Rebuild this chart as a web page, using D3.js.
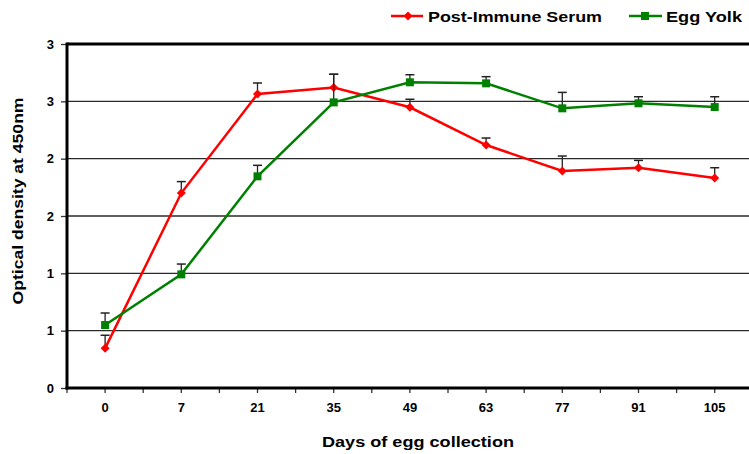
<!DOCTYPE html>
<html>
<head>
<meta charset="utf-8">
<script src="https://cdn.jsdelivr.net/npm/d3@7"></script>
<style>
  html, body { margin: 0; padding: 0; background: #fff; }
  svg { display: block; }
  text { font-family: "Liberation Sans", Arial, sans-serif; font-weight: bold; fill: #000; }
</style>
</head>
<body>
<script>
const categories = ["0", "7", "21", "35", "49", "63", "77", "91", "105"];
const serumValues = [0.346, 1.70, 2.564, 2.62, 2.448, 2.119, 1.892, 1.921, 1.831];
const serumErrors = [0.114, 0.10, 0.096, 0.116, 0.070, 0.061, 0.131, 0.064, 0.090];
const yolkValues = [0.549, 0.991, 1.846, 2.491, 2.666, 2.657, 2.439, 2.483, 2.450];
const yolkErrors = [0.105, 0.090, 0.096, 0.245, 0.066, 0.058, 0.139, 0.057, 0.090];
const yTickValues = [0, 0.5, 1, 1.5, 2, 2.5, 3];
const yTickLabels = ["0", "1", "1", "2", "2", "3", "3"];
const seriesNames = ["Post-Immune Serum", "Egg Yolk"];
const seriesColors = ["#ff0000", "#008000"];

const W = 749, H = 454;
const svg = d3.select("body").append("svg").attr("width", W).attr("height", H);

const plotLeft = 67, plotTop = 44, plotBottom = 388, step = 76.2;
const x = d3.scaleBand().domain(categories).range([plotLeft, plotLeft + step * categories.length]).padding(0);
const y = d3.scaleLinear().domain([0, 3]).range([plotBottom, plotTop]);
const cx = d => x(d) + x.bandwidth() / 2;

// gridlines
svg.append("g").selectAll("line").data(yTickValues.filter(v => v > 0 && v < 3)).join("line")
  .attr("x1", plotLeft).attr("x2", W).attr("y1", d => y(d)).attr("y2", d => y(d))
  .attr("stroke", "#2a2a2a").attr("stroke-width", 1.3);

// y axis ticks and labels
const yAxis = d3.axisLeft(y).tickValues(yTickValues).tickSize(6).tickFormat((d, i) => yTickLabels[i]);
const gy = svg.append("g").attr("transform", `translate(${plotLeft},0)`).call(yAxis);
gy.select(".domain").remove();
gy.selectAll(".tick line").attr("stroke", "#333").attr("stroke-width", 1.3);
gy.selectAll(".tick text").attr("x", -13).attr("font-size", 13).attr("font-family", "Liberation Sans, Arial, sans-serif").attr("font-weight", "bold").attr("fill", "#000");

// x axis: ticks at boundaries and centers
const xAxis = d3.axisBottom(x).tickSize(5).tickFormat(d => d);
const gx = svg.append("g").attr("transform", `translate(0,${plotBottom})`).call(xAxis);
gx.select(".domain").remove();
gx.selectAll(".tick line").attr("stroke", "#333").attr("stroke-width", 1.3);
gx.selectAll(".tick text").attr("y", 15).attr("font-size", 13).attr("font-family", "Liberation Sans, Arial, sans-serif").attr("font-weight", "bold").attr("fill", "#000");
const bounds = categories.map(c => x(c)).concat([x(categories[categories.length - 1]) + x.bandwidth()]);
svg.append("g").selectAll("line").data(bounds).join("line")
  .attr("x1", d => d).attr("x2", d => d).attr("y1", plotBottom).attr("y2", plotBottom + 5)
  .attr("stroke", "#333").attr("stroke-width", 1.3);

// frame lines
svg.append("line").attr("x1", plotLeft).attr("x2", W).attr("y1", y(3)).attr("y2", y(3)).attr("stroke", "#000").attr("stroke-width", 3);
svg.append("line").attr("x1", plotLeft).attr("x2", plotLeft).attr("y1", y(3) - 1.5).attr("y2", plotBottom + 1.5).attr("stroke", "#000").attr("stroke-width", 3);
svg.append("line").attr("x1", plotLeft - 1.5).attr("x2", W).attr("y1", plotBottom).attr("y2", plotBottom).attr("stroke", "#000").attr("stroke-width", 3);

const series = [
  { name: seriesNames[0], color: seriesColors[0], values: serumValues, errors: serumErrors, marker: "diamond" },
  { name: seriesNames[1], color: seriesColors[1], values: yolkValues, errors: yolkErrors, marker: "square" }
];

function drawMarker(g, type, px, py, color) {
  if (type === "diamond") {
    g.append("path").attr("d", `M${px},${py - 4.5}L${px + 4.5},${py}L${px},${py + 4.5}L${px - 4.5},${py}Z`).attr("fill", color);
  } else {
    g.append("rect").attr("x", px - 4).attr("y", py - 4).attr("width", 8).attr("height", 8).attr("fill", color);
  }
}

series.forEach(s => {
  const g = svg.append("g");
  categories.forEach((c, i) => {
    const px = cx(c), y0 = y(s.values[i]), y1 = y(s.values[i] + s.errors[i]);
    g.append("line").attr("x1", px).attr("x2", px).attr("y1", y0).attr("y2", y1).attr("stroke", "#222").attr("stroke-width", 1.3);
    g.append("line").attr("x1", px - 4.5).attr("x2", px + 4.5).attr("y1", y1).attr("y2", y1).attr("stroke", "#222").attr("stroke-width", 1.5);
  });
  const line = d3.line().x((d, i) => cx(categories[i])).y(d => y(d));
  g.append("path").datum(s.values).attr("d", line).attr("fill", "none").attr("stroke", s.color).attr("stroke-width", 2.5);
  categories.forEach((c, i) => drawMarker(g, s.marker, cx(c), y(s.values[i]), s.color));
});

// legend
const legend = [
  { x1: 391, x2: 423, mx: 408, tx: 428, tw: 174 },
  { x1: 629, x2: 662, mx: 645, tx: 666, tw: 76 }
];
series.forEach((s, i) => {
  const L = legend[i];
  svg.append("line").attr("x1", L.x1).attr("x2", L.x2).attr("y1", 16).attr("y2", 16).attr("stroke", s.color).attr("stroke-width", 2.5);
  drawMarker(svg, s.marker, L.mx, 16, s.color);
  svg.append("text").attr("x", L.tx).attr("y", 21.5).attr("font-size", 15)
    .attr("textLength", L.tw).attr("lengthAdjust", "spacingAndGlyphs").text(s.name);
});

// axis titles
svg.append("text").attr("x", 322).attr("y", 447).attr("font-size", 15)
  .attr("textLength", 192).attr("lengthAdjust", "spacingAndGlyphs").text("Days of egg collection");
svg.append("text").attr("transform", "translate(23,201) rotate(-90)").attr("text-anchor", "middle").attr("font-size", 15)
  .attr("textLength", 207).attr("lengthAdjust", "spacingAndGlyphs").text("Optical density at 450nm");
</script>
</body>
</html>
